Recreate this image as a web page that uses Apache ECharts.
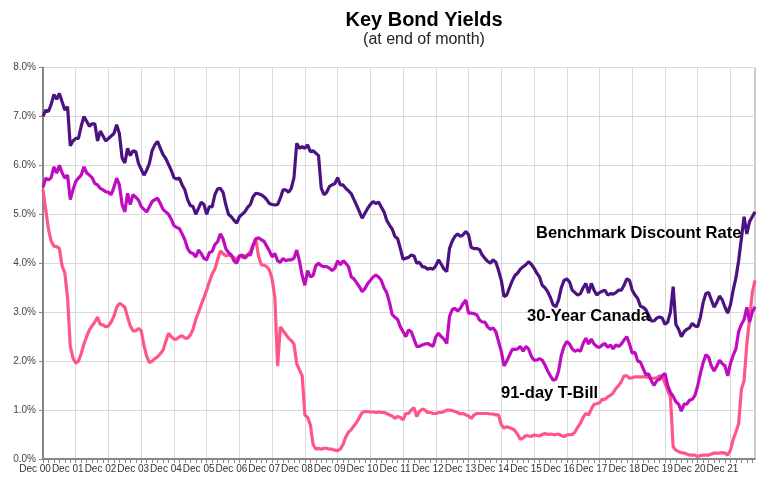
<!DOCTYPE html>
<html>
<head>
<meta charset="utf-8">
<script src="https://cdn.jsdelivr.net/npm/echarts@6/dist/echarts.min.js"></script>
<style>
  html, body { margin: 0; padding: 0; background: #fff; }
  #chart { width: 761px; height: 477px; }
</style>
</head>
<body>
<div id="chart"></div>
<script>
// monthly data, Dec 2000 .. Sep 2022 (one row per year, starting at December)
var benchmark = [
  7.0, 7.13, 7.1, 7.25, 7.45, 7.35, 7.47, 7.3, 7.13, 7.2, 6.4, 6.5,
  6.55, 6.55, 6.8, 7.0, 6.9, 6.8, 6.85, 6.85, 6.5, 6.7, 6.6, 6.5,
  6.55, 6.6, 6.65, 6.83, 6.65, 6.15, 6.05, 6.35, 6.2, 6.3, 6.28, 6.04,
  5.92, 5.8, 5.9, 6.04, 6.3, 6.42, 6.49, 6.35, 6.22, 6.14, 6.02, 5.9,
  5.75, 5.72, 5.74, 5.6, 5.5, 5.3, 5.18, 5.16, 5.0, 5.12, 5.25, 5.2,
  5.0, 5.16, 5.15, 5.4, 5.52, 5.53, 5.45, 5.2, 5.0, 4.95, 4.88, 4.82,
  4.95, 5.0, 5.05, 5.14, 5.2, 5.36, 5.43, 5.42, 5.4, 5.36, 5.3, 5.22,
  5.2, 5.19, 5.2, 5.33, 5.5, 5.5, 5.45, 5.53, 5.75, 6.45, 6.35, 6.38,
  6.35, 6.42, 6.28, 6.3, 6.25, 6.2, 5.53, 5.4, 5.45, 5.57, 5.6, 5.63,
  5.75, 5.6, 5.6, 5.53, 5.48, 5.42, 5.3, 5.18, 5.05, 4.92, 5.02, 5.12,
  5.2, 5.26, 5.22, 5.25, 5.15, 5.05, 4.88, 4.78, 4.7, 4.55, 4.5, 4.3,
  4.08, 4.1, 4.12, 4.17, 4.15, 4.0, 4.02, 3.93, 3.92, 3.88, 3.9, 3.88,
  3.95, 4.07, 3.98, 3.88, 3.83, 4.3, 4.45, 4.55, 4.6, 4.55, 4.58, 4.65,
  4.58, 4.32, 4.3, 4.3, 4.28, 4.17, 4.1, 4.04, 4.0, 4.07, 4.02, 3.85,
  3.65, 3.32, 3.35, 3.5, 3.64, 3.75, 3.8, 3.88, 3.93, 3.97, 4.03, 3.98,
  3.9, 3.8, 3.72, 3.55, 3.5, 3.42, 3.3, 3.15, 3.11, 3.25, 3.5, 3.65,
  3.68, 3.62, 3.45, 3.4, 3.35, 3.38, 3.5, 3.59, 3.39, 3.59, 3.45, 3.35,
  3.4, 3.43, 3.45, 3.35, 3.38, 3.37, 3.4, 3.45, 3.45, 3.55, 3.68, 3.65,
  3.45, 3.35, 3.28, 3.12, 3.1, 3.05, 2.94, 2.82, 2.82, 2.88, 2.9, 2.88,
  2.75, 2.8, 3.0, 3.52, 2.75, 2.65, 2.5, 2.6, 2.65, 2.68, 2.77, 2.72,
  2.7, 2.9, 3.2, 3.38, 3.4, 3.25, 3.1, 3.2, 3.33, 3.25, 3.1, 2.98,
  3.15, 3.45, 3.7, 4.05, 4.5, 4.95, 4.6, 4.85, 4.95, 5.05
];

var canada30 = [
  5.55, 5.74, 5.7, 5.75, 5.97, 5.84, 6.0, 5.85, 5.74, 5.8, 5.3, 5.5,
  5.67, 5.74, 5.8, 5.97, 5.85, 5.8, 5.75, 5.63, 5.6, 5.53, 5.5, 5.46,
  5.45, 5.4, 5.55, 5.74, 5.6, 5.2, 5.05, 5.43, 5.2, 5.4, 5.35, 5.29,
  5.16, 5.1, 5.05, 5.15, 5.26, 5.3, 5.33, 5.22, 5.1, 5.05, 5.0, 4.9,
  4.77, 4.73, 4.71, 4.6, 4.48, 4.3, 4.22, 4.2, 4.13, 4.27, 4.2, 4.1,
  4.07, 4.22, 4.24, 4.38, 4.44, 4.6, 4.5, 4.3, 4.22, 4.17, 4.05, 4.0,
  4.15, 4.17, 4.1, 4.17, 4.17, 4.35, 4.5, 4.52, 4.48, 4.45, 4.35, 4.25,
  4.13, 4.2, 4.05, 4.02, 4.1, 4.05, 4.07, 4.07, 4.1, 4.27, 4.05, 3.75,
  3.55, 3.85, 3.72, 3.75, 3.95, 4.0, 3.95, 3.93, 3.93, 3.9, 3.85, 3.9,
  4.05, 3.97, 4.05, 4.0, 3.93, 3.72, 3.68, 3.6, 3.52, 3.42, 3.48, 3.58,
  3.65, 3.72, 3.76, 3.72, 3.65, 3.5, 3.4, 3.2, 2.95, 2.9, 2.85, 2.7,
  2.6, 2.5, 2.64, 2.6, 2.45, 2.3, 2.3, 2.33, 2.35, 2.36, 2.33, 2.3,
  2.5, 2.57, 2.5, 2.45, 2.36, 2.91, 3.05, 3.08, 3.02, 3.08, 3.18, 3.25,
  2.98, 2.98, 2.97, 2.95, 2.84, 2.8, 2.8, 2.7, 2.65, 2.68, 2.6, 2.4,
  2.2, 1.9, 2.0, 2.12, 2.24, 2.24, 2.25, 2.3, 2.2, 2.3, 2.25, 2.1,
  2.02, 2.02, 2.05, 2.02, 1.92, 1.8, 1.7, 1.61, 1.63, 1.8, 2.12, 2.3,
  2.4, 2.35, 2.25, 2.2, 2.23, 2.2, 2.36, 2.47, 2.35, 2.45, 2.35, 2.3,
  2.28, 2.33, 2.36, 2.28, 2.33, 2.25, 2.33, 2.3, 2.35, 2.43, 2.5, 2.35,
  2.16, 2.18, 2.0, 1.98, 1.85, 1.72, 1.74, 1.6, 1.5, 1.6, 1.63, 1.7,
  1.75, 1.5, 1.36, 1.28, 1.17, 1.12, 0.98, 1.12, 1.12, 1.2, 1.22, 1.3,
  1.5, 1.75, 1.97, 2.13, 2.08, 1.9, 1.8, 1.9, 2.02, 1.95, 1.9, 1.7,
  1.95, 2.12, 2.25, 2.6, 2.75, 2.85, 3.1, 2.8, 3.0, 3.11
];

var tbill91 = [
  5.5, 5.1, 4.7, 4.45, 4.35, 4.34, 4.3, 3.95, 3.8, 3.3, 2.3, 2.06,
  1.96, 2.0, 2.15, 2.35, 2.5, 2.64, 2.72, 2.8, 2.9, 2.75, 2.74, 2.7,
  2.72, 2.8, 2.92, 3.1, 3.18, 3.15, 3.1, 2.9, 2.72, 2.62, 2.62, 2.67,
  2.62, 2.32, 2.1, 1.97, 2.0, 2.05, 2.09, 2.15, 2.22, 2.4, 2.57, 2.5,
  2.45, 2.45, 2.5, 2.52, 2.47, 2.47, 2.53, 2.65, 2.85, 3.0, 3.15, 3.3,
  3.45, 3.62, 3.78, 3.88, 4.07, 4.25, 4.2, 4.15, 4.17, 4.15, 4.12, 4.07,
  4.15, 4.12, 4.15, 4.17, 4.24, 4.38, 4.5, 4.15, 3.97, 3.96, 3.93, 3.86,
  3.68, 3.3, 1.9, 2.7, 2.62, 2.55, 2.47, 2.42, 2.35, 1.95, 1.82, 1.7,
  0.9, 0.85, 0.7, 0.3, 0.2, 0.22, 0.2, 0.22, 0.22, 0.2, 0.2, 0.18,
  0.17, 0.2, 0.3, 0.45, 0.55, 0.6, 0.68, 0.75, 0.85, 0.95, 0.97, 0.97,
  0.96, 0.96, 0.95, 0.96, 0.95, 0.95, 0.93, 0.9, 0.88, 0.83, 0.87, 0.85,
  0.8, 0.93, 0.93, 1.0, 1.05, 0.87, 0.97, 1.02, 1.0, 0.95, 0.95, 0.93,
  0.93, 0.95, 0.95, 0.97, 1.0, 1.0, 0.99, 0.97, 0.95, 0.92, 0.93, 0.9,
  0.88, 0.83, 0.9, 0.93, 0.93, 0.93, 0.93, 0.93, 0.92, 0.92, 0.9, 0.9,
  0.7, 0.63, 0.66, 0.64, 0.62, 0.58, 0.5, 0.4, 0.43, 0.48, 0.47, 0.46,
  0.49, 0.48, 0.47, 0.5, 0.52, 0.5, 0.51, 0.5, 0.5, 0.51, 0.48, 0.46,
  0.49, 0.5, 0.5, 0.55, 0.65, 0.73, 0.85, 0.93, 0.9, 1.02, 1.12, 1.13,
  1.15, 1.22, 1.22, 1.27, 1.3, 1.35, 1.44, 1.5, 1.58, 1.7, 1.7, 1.65,
  1.66, 1.68, 1.68, 1.68, 1.68, 1.68, 1.66, 1.65, 1.65, 1.66, 1.7, 1.68,
  1.55, 1.4, 1.27, 0.25, 0.18, 0.15, 0.13, 0.12, 0.1, 0.08, 0.08, 0.08,
  0.05, 0.07, 0.08, 0.08, 0.08, 0.1, 0.12, 0.12, 0.12, 0.13, 0.12, 0.08,
  0.18, 0.4, 0.55, 0.72, 1.42, 1.6, 2.35, 2.85, 3.4, 3.65
];

var seriesNames = ['Benchmark Discount Rate', '30-Year Canada', '91-day T-Bill'];
var seriesColors = ['#4b1282', '#c00cc0', '#ff5785'];

// month labels: "Dec 00", "Jan 01", ...
var monthNames = ['Jan', 'Feb', 'Mar', 'Apr', 'May', 'Jun', 'Jul', 'Aug', 'Sep', 'Oct', 'Nov', 'Dec'];
var months = [];
for (var i = 0; i < benchmark.length; i++) {
  var k = 11 + i;
  var yr = (k - k % 12) / 12;
  months.push(monthNames[k % 12] + ' ' + (yr < 10 ? '0' + yr : '' + yr));
}

var FONT = '"Liberation Sans", Arial, sans-serif';
var axisGray = '#868686';

var chart = echarts.init(document.getElementById('chart'));
chart.setOption({
  animation: false,
  title: {
    text: 'Key Bond Yields',
    subtext: '(at end of month)',
    left: 419,
    textAlign: 'center',
    top: 5,
    itemGap: 2,
    textStyle: { fontFamily: FONT, fontSize: 20, fontWeight: 'bold', color: '#000' },
    subtextStyle: { fontFamily: FONT, fontSize: 16, color: '#222' }
  },
  grid: {
    left: 43, right: 6, top: 67.5, bottom: 18,
    show: true, borderColor: '#9a9a9a', borderWidth: 1
  },
  xAxis: {
    type: 'category',
    data: months,
    boundaryGap: false,
    axisLine: { lineStyle: { color: axisGray, width: 2 } },
    axisTick: {
      interval: function (idx) { return idx % 2 === 0; },
      length: 4,
      lineStyle: { color: axisGray }
    },
    axisLabel: {
      interval: function (idx) { return idx % 12 === 0; },
      fontFamily: FONT, fontSize: 10, color: '#333',
      margin: 5,
      padding: [0, 16, 0, 0]
    },
    splitLine: {
      show: true,
      interval: function (idx) { return idx % 12 === 0; },
      lineStyle: { color: '#d9d9d9', width: 1 }
    }
  },
  yAxis: {
    type: 'value',
    min: 0, max: 8, interval: 1,
    axisLine: { show: true, lineStyle: { color: axisGray, width: 2 } },
    axisTick: { show: true, length: 4, lineStyle: { color: axisGray } },
    axisLabel: {
      fontFamily: FONT, fontSize: 10, color: '#444', margin: 7,
      formatter: function (v) { return v.toFixed(1) + '%'; }
    },
    splitLine: { lineStyle: { color: '#d9d9d9', width: 1 } }
  },
  series: [
    { name: seriesNames[0], type: 'line', data: benchmark, showSymbol: false,
      lineStyle: { color: seriesColors[0], width: 3.2 }, itemStyle: { color: seriesColors[0] }, z: 3 },
    { name: seriesNames[1], type: 'line', data: canada30, showSymbol: false,
      lineStyle: { color: seriesColors[1], width: 3.2 }, itemStyle: { color: seriesColors[1] }, z: 2 },
    { name: seriesNames[2], type: 'line', data: tbill91, showSymbol: false,
      lineStyle: { color: seriesColors[2], width: 3.2 }, itemStyle: { color: seriesColors[2] }, z: 1 }
  ],
  graphic: [
    { type: 'text', x: 536, y: 233, z: 10,
      style: { text: seriesNames[0], font: 'bold 16.5px ' + FONT, fill: '#000', verticalAlign: 'middle' } },
    { type: 'text', x: 527, y: 316, z: 10,
      style: { text: seriesNames[1], font: 'bold 16.5px ' + FONT, fill: '#000', verticalAlign: 'middle' } },
    { type: 'text', x: 501, y: 393, z: 10,
      style: { text: seriesNames[2], font: 'bold 16.5px ' + FONT, fill: '#000', verticalAlign: 'middle' } }
  ]
});
</script>
</body>
</html>
